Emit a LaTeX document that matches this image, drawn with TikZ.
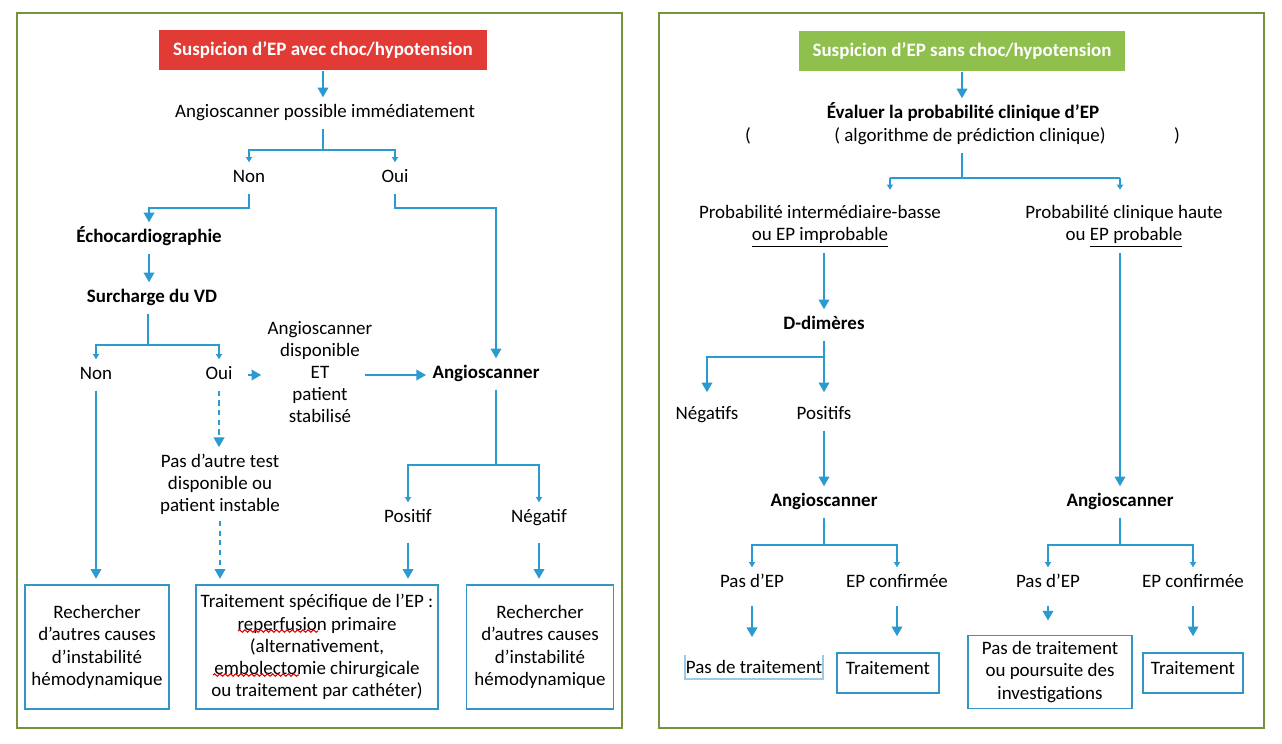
\documentclass[tikz,border=0pt]{standalone}
\usepackage{fontspec}
\setmainfont{Carlito}
\usetikzlibrary{arrows.meta,decorations.pathmorphing}
\definecolor{EPRed}{HTML}{E23B36}
\definecolor{EPGreen}{HTML}{8FBF4D}
\definecolor{EPFrame}{HTML}{76923C}
\definecolor{EPBlue}{HTML}{2B9AD0}
\definecolor{EPBox}{HTML}{3297C8}
\definecolor{EPPale}{HTML}{9CC9E6}
\newcommand{\epsize}{\fontsize{10.8pt}{12.6pt}\selectfont}

\begin{document}
\begin{tikzpicture}[x=0.02cm,y=-0.02cm,
  lbl/.style={inner sep=3.5pt,text height=8pt,text depth=2.5pt,font=\epsize},
  lblb/.style={lbl,font=\epsize\bfseries},
  mlbl/.style={inner sep=3.5pt,align=center,font=\epsize},
  head/.style={minimum width=6.56cm,minimum height=0.82cm,inner sep=0pt,text=white,font=\epsize\bfseries},
  box/.style={draw=EPBox,line width=1.1pt,align=center,inner sep=0pt,font=\epsize},
  flow/.style={draw=EPBlue,line width=1.1pt,-{Triangle[width=6pt,length=5.5pt]}},
  twig/.style={draw=EPBlue,line width=1.1pt,-{Triangle[width=3.5pt,length=3pt]}},
  link/.style={draw=EPBlue,line width=1.1pt},
  frame/.style={draw=EPFrame,line width=1.3pt},
  wavy/.style={draw=red!85!black,line width=0.6pt,decorate,decoration={snake,amplitude=0.7pt,segment length=3pt}}]
\path[use as bounding box] (0,0) rectangle (1282,744);
% panels
\draw[frame] (17,13) rectangle (622,728);
\draw[frame] (659,13) rectangle (1264,728);

% left panel: with shock
\node[head,fill=EPRed] (redhead) at (323,50) {Suspicion d’EP avec choc/hypotension};
\node[lbl] (angiopos) at (325,113) {Angioscanner possible immédiatement};
\node[lbl] (nonA) at (249,178) {Non};
\node[lbl] (ouiA) at (395,178) {Oui};
\node[lblb] (echo) at (149,238) {Échocardiographie};
\node[lblb] (surch) at (152,298) {Surcharge du VD};
\node[lbl] (nonB) at (96,375) {Non};
\node[lbl] (ouiB) at (219,375) {Oui};
\node[mlbl] (dispo) at (320,372) {Angioscanner\\disponible\\ET\\patient\\stabilisé};
\node[lblb] (angioL) at (486,374) {Angioscanner};
\node[mlbl] (autre) at (220,484) {Pas d’autre test\\disponible ou\\patient instable};
\node[lbl] (posL) at (408,518) {Positif};
\node[lbl] (negL) at (539,518) {Négatif};
\node[box,minimum width=2.88cm,minimum height=2.48cm] (causeA) at (97,647) {Rechercher\\d’autres causes\\d’instabilité\\hémodynamique};
\node[box,minimum width=4.84cm,minimum height=2.48cm] (trait) at (317,647) {Traitement spécifique de l’EP :\\reperfusion primaire\\(alternativement,\\embolectomie chirurgicale\\ou traitement par cathéter)};
\node[box,minimum width=2.94cm,minimum height=2.48cm] (causeB) at (540,647) {Rechercher\\d’autres causes\\d’instabilité\\hémodynamique};
\coordinate (jA) at (323,150);
\coordinate (jB) at (249,208);
\coordinate (jC) at (148,345);
\coordinate (jD) at (496,208);
\coordinate (jE) at (496,465);
\draw[flow] (redhead) -- (redhead |- angiopos.north);
\draw[link] (angiopos.south -| jA) -- (jA);
\draw[twig] (jA) -| (nonA.north);
\draw[twig] (jA) -| (ouiA.north);
\draw[flow] (nonA.south) -- (jB) -| (echo.north);
\draw[flow] (echo) -- (echo |- surch.north);
\draw[link] (surch.south -| jC) -- (jC);
\draw[twig] (jC) -| (nonB.north);
\draw[twig] (jC) -| (ouiB.north);
\draw[flow,shorten <=5pt] (ouiB) -- (ouiB -| dispo.west);
\draw[flow] ([xshift=-8pt]dispo.east |- ouiB.east) -- (ouiB.east -| angioL.west);
\draw[flow] (ouiA.south) |- (jD) -- (jD |- angioL.north);
\draw[link] (angioL.south -| jE) -- (jE);
\draw[twig] (jE) -| (posL.north);
\draw[twig] (jE) -| (negL.north);
\draw[flow,shorten <=5pt,shorten >=3pt] (posL) -- (posL |- trait.north);
\draw[flow,shorten <=5pt,shorten >=3pt] (negL) -- (negL |- causeB.north);
\draw[flow,shorten >=3pt] (nonB) -- (nonB |- causeA.north);
\draw[flow,dash pattern=on 3pt off 2.5pt] (ouiB) -- (ouiB |- autre.north);
\draw[flow,dash pattern=on 3pt off 2.5pt,shorten >=3pt] (autre) -- (autre |- trait.north);
% spell-check marks
\draw[wavy] (238,631) -- (318,631);
\draw[wavy] (213,675) -- (299,675);

% right panel: without shock
\node[head,fill=EPGreen,minimum width=6.54cm] (greenhead) at (962,51) {Suspicion d’EP sans choc/hypotension};
\node[lblb] (eval) at (963,114) {Évaluer la probabilité clinique d’EP};
\node[lbl] (parL) at (748,137) {(};
\node[lbl] (algo) at (970,137) {( algorithme de prédiction clinique)};
\node[lbl] (parR) at (1177,137) {)};
\node[mlbl] (pbasse) at (820,226) {Probabilité intermédiaire-basse\\\underline{ou EP improbable}};
\node[mlbl] (phaute) at (1124,226) {Probabilité clinique haute\\ou \underline{EP probable}};
\node[lblb] (ddim) at (824,325) {D-dimères};
\node[lbl] (negs) at (707,415) {Négatifs};
\node[lbl] (poss) at (824,415) {Positifs};
\node[lblb] (angioM) at (824,502) {Angioscanner};
\node[lblb] (angioR) at (1120,502) {Angioscanner};
\node[lbl] (pasepM) at (752,583) {Pas d’EP};
\node[lbl] (epconfM) at (897,583) {EP confirmée};
\node[lbl] (pasepR) at (1048,583) {Pas d’EP};
\node[lbl] (epconfR) at (1193,583) {EP confirmée};
\node[font=\epsize,minimum width=2.76cm,minimum height=0.48cm,inner sep=0pt] (pastrait) at (754,667) {Pas de traitement};
\node[box,text height=8pt,text depth=6.6pt,minimum width=2.04cm,minimum height=0.8cm] (traitM) at (888,673) {Traitement};
\node[box,minimum width=3.28cm,minimum height=1.46cm] (poursuite) at (1050,672) {Pas de traitement\\ou poursuite des\\investigations};
\node[box,text height=8pt,text depth=6.6pt,minimum width=2.0cm,minimum height=0.8cm] (traitR) at (1193,673) {Traitement};
\coordinate (jF) at (962,178);
\coordinate (jFl) at (890,178);
\coordinate (jFr) at (1120,178);
\coordinate (jG) at (824,357);
\coordinate (jH) at (824,545);
\coordinate (jI) at (1120,545);
\draw[flow] (greenhead) -- (greenhead |- eval.north);
\draw[link] (algo.south -| jF) -- (jF);
\draw[link] (jFl) -- (jFr);
\draw[twig,shorten >=5pt] (jFl) -- (jFl |- pbasse.north);
\draw[twig,shorten >=5pt] (jFr) -- (jFr |- phaute.north);
\draw[flow] (pbasse.south -| ddim) -- (ddim.north);
\draw[flow,shorten >=4pt] (ddim) -- (poss);
\draw[flow,shorten >=4pt] (jG) -| (negs.north);
\draw[flow] (poss) -- (angioM);
\draw[flow] (phaute.south -| angioR) -- (angioR.north);
\draw[link] (angioM) -- (jH);
\draw[twig] (jH) -| (pasepM.north);
\draw[twig] (jH) -| (epconfM.north);
\draw[link] (angioR) -- (jI);
\draw[twig] (jI) -| (pasepR.north);
\draw[twig] (jI) -| (epconfR.north);
\draw[EPPale,line width=1pt] (pastrait.north west) -- (pastrait.south west) -- (pastrait.south east) -- (pastrait.north east);
\draw[flow,shorten <=4pt,shorten >=10pt] (pasepM) -- (pasepM |- pastrait.north);
\draw[flow,shorten <=4pt,shorten >=9pt] (epconfM) -- (epconfM |- traitM.north);
\draw[flow,shorten <=4pt,shorten >=8pt] (pasepR) -- (pasepR |- poursuite.north);
\draw[flow,shorten <=4pt,shorten >=9pt] (epconfR) -- (epconfR |- traitR.north);
\end{tikzpicture}
\end{document}
